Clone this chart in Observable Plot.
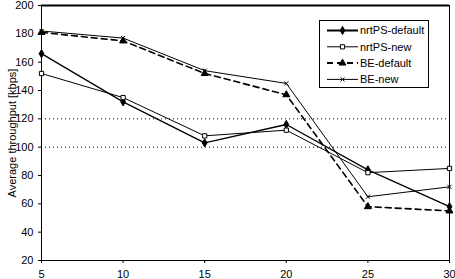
<!DOCTYPE html>
<html><head><meta charset="utf-8">
<script src="https://cdn.jsdelivr.net/npm/d3@7"></script>
<script src="https://cdn.jsdelivr.net/npm/@observablehq/plot@0.6"></script>
<style>
body{margin:0;background:#fff;font-family:"Liberation Sans",Arial,sans-serif}
#wrap{position:relative;width:455px;height:279px}
#legend{position:absolute;left:319px;top:20px;width:108px;height:66px;border:1px solid #000;background:#fff}
</style></head><body><div id="wrap"></div>
<script>
const users = [5, 10, 15, 20, 25, 30];
const nrtpsDefault = [166, 132, 103, 116, 84, 58];
const nrtpsNew = [152, 135, 108, 112, 82, 85];
const beDefault = [181, 175, 152, 137, 58, 55];
const beNew = [182, 177, 154, 145, 65, 72];
const yTicks = [20, 40, 60, 80, 100, 120, 140, 160, 180, 200];
const xTicks = [5, 10, 15, 20, 25, 30];
const gridValues = [100, 120];
const seriesNames = ["nrtPS-default", "nrtPS-new", "BE-default", "BE-new"];
const yLabel = "Average throughput [kbps]";

const styles = {
  "nrtPS-default": {sw: 1.3, lsw: 2, dash: null, symbol: "diamond", fill: "#000", r: 2.5},
  "nrtPS-new": {sw: 1, lsw: 1, dash: null, symbol: "square", fill: "#fff", r: 2.4},
  "BE-default": {sw: 1.6, lsw: 2, dash: "6,4", symbol: "triangle", fill: "#000", r: 2.6},
  "BE-new": {sw: 1, lsw: 1, dash: null, symbol: "times", fill: "none", r: 2}
};
const valuesBySeries = [nrtpsDefault, nrtpsNew, beDefault, beNew];
const rows = seriesNames.flatMap((s, i) => users.map((u, j) => ({series: s, x: u, y: valuesBySeries[i][j]})));

const marks = [
  Plot.ruleY(gridValues, {stroke: "#000", strokeDasharray: "1,3", strokeWidth: 1}),
  Plot.frame({stroke: "#000", strokeWidth: 1}),
  Plot.ruleY([200], {stroke: "#000", strokeWidth: 2}),
];
for (const s of seriesNames) {
  const st = styles[s];
  const d = rows.filter(r => r.series === s);
  marks.push(Plot.line(d, {x: "x", y: "y", stroke: "#000", strokeWidth: st.sw, strokeDasharray: st.dash}));
  marks.push(Plot.dot(d, {x: "x", y: "y", symbol: () => st.symbol, r: st.r, stroke: "#000", strokeWidth: 1, fill: st.fill}));
}

const chart = Plot.plot({
  width: 455, height: 279,
  marginLeft: 41, marginRight: 6, marginTop: 5, marginBottom: 19,
  style: {fontFamily: '"Liberation Sans", Arial, sans-serif', fontSize: "11px", color: "#000", background: "#fff", overflow: "visible"},
  x: {domain: [5, 30], ticks: xTicks, tickSize: 3, tickPadding: 7, label: null, line: true},
  y: {domain: [20, 200], ticks: yTicks, tickSize: 3, tickPadding: 5, label: yLabel, labelAnchor: "center", labelArrow: "none", labelOffset: 33, line: true},
  marks
});
document.getElementById("wrap").appendChild(chart);

// legend
const leg = document.createElement("div");
leg.id = "legend";
document.getElementById("wrap").appendChild(leg);
const lsvg = d3.select(leg).append("svg").attr("width", 108).attr("height", 66);
seriesNames.forEach((s, i) => {
  const st = styles[s];
  const cy = 9.5 + i * 16.3;
  const g = lsvg.append("g");
  g.append("line").attr("x1", 7).attr("x2", 38).attr("y1", cy).attr("y2", cy)
    .attr("stroke", "#000").attr("stroke-width", st.lsw).attr("stroke-dasharray", st.dash);
  const sym = d3.symbol().type({diamond: d3.symbolDiamond, square: d3.symbolSquare, triangle: d3.symbolTriangle, times: d3.symbolTimes}[st.symbol]).size(st.r * st.r * 3);
  g.append("path").attr("d", sym()).attr("transform", `translate(22.5,${cy})`)
    .attr("fill", st.fill).attr("stroke", "#000").attr("stroke-width", 1);
  g.append("text").attr("x", 40).attr("y", cy).attr("dy", "0.35em")
    .attr("font-size", 11).attr("font-family", '"Liberation Sans", Arial, sans-serif').text(s);
});
</script></body></html>
